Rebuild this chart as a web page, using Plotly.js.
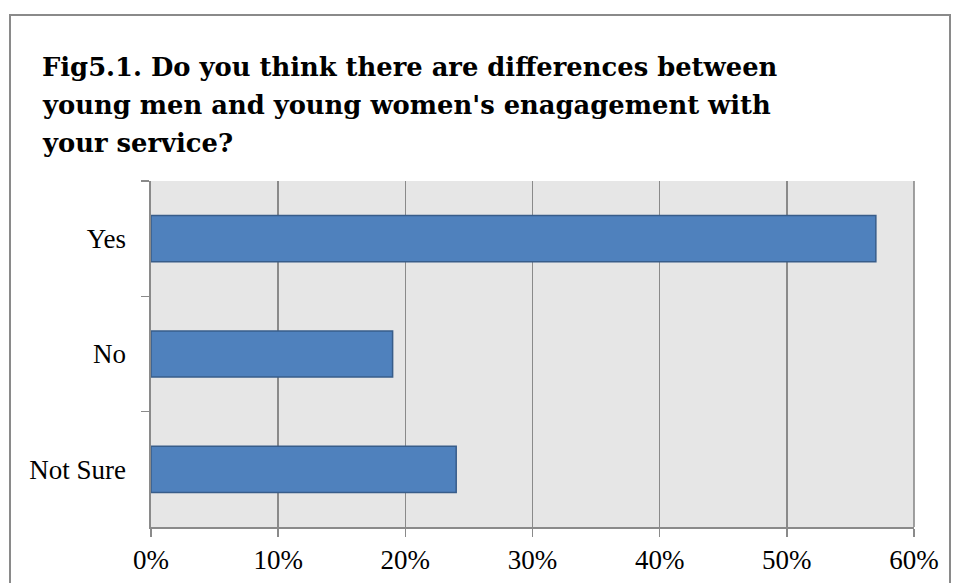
<!DOCTYPE html>
<html>
<head>
<meta charset="utf-8">
<script src="https://cdn.plot.ly/plotly-3.0.1.min.js"></script>
<style>
html,body{margin:0;padding:0;background:#fff;}
#chart{width:956px;height:583px;}
</style>
</head>
<body>
<div id="chart"></div>
<script>
const categories = ['Yes', 'No', 'Not Sure'];
const shares = [0.57, 0.19, 0.24];
const xTickVals = [0, 0.1, 0.2, 0.3, 0.4, 0.5, 0.6];
const xTickText = ['0%', '10%', '20%', '30%', '40%', '50%', '60%'];
const titleLines = [
  "Fig5.1. Do you think there are differences between",
  "young men and young women's enagagement with",
  "your service?"
];

const W = 956, H = 583;
const m = {l: 151, r: 42, t: 181, b: 56};
const pw = W - m.l - m.r, ph = H - m.t - m.b;
const px = v => (v - m.l) / pw;
const py = v => (H - m.b - v) / ph;

const trace = {
  type: 'bar',
  orientation: 'h',
  y: categories,
  x: shares,
  marker: {color: '#4f81bd', line: {color: '#385d8a', width: 1.5}},
  width: 0.4,
  hoverinfo: 'x+y'
};

const titleMid = [67, 105, 143];
const annotations = titleLines.map((t, i) => ({
  text: '<b>' + t + '</b>',
  xref: 'paper', yref: 'paper',
  x: px(40), y: py(titleMid[i]),
  xanchor: 'left', yanchor: 'middle',
  showarrow: false,
  font: {family: '"DejaVu Serif", serif', size: 25.8, color: '#000'}
}));

const layout = {
  width: W, height: H,
  margin: m,
  paper_bgcolor: '#ffffff',
  plot_bgcolor: '#e6e6e6',
  showlegend: false,
  font: {family: '"Liberation Serif", serif', color: '#000'},
  annotations: annotations,
  xaxis: {
    range: [0, 0.6],
    tickvals: xTickVals,
    ticktext: xTickText,
    showgrid: true, gridcolor: '#8a8a8a', gridwidth: 1.6,
    zeroline: false,
    showline: true, linecolor: '#8a8a8a', linewidth: 1.6,
    ticks: 'outside', ticklen: 8, tickcolor: '#8a8a8a', tickwidth: 1.6,
    tickfont: {size: 27, color: '#000'},
    ticklabelstandoff: 0,
    fixedrange: true
  },
  yaxis: {
    type: 'category',
    autorange: 'reversed',
    showgrid: false,
    showline: true, linecolor: '#8a8a8a', linewidth: 1.6,
    ticks: 'outside', ticklen: 8, tickcolor: '#8a8a8a', tickwidth: 1.6,
    tickson: 'boundaries',
    tickfont: {size: 27, color: '#000'},
    ticklabelstandoff: 18,
    fixedrange: true
  },
  shapes: [
    {type: 'line', xref: 'paper', yref: 'paper', x0: 1, x1: 1, y0: 0, y1: 1,
     line: {color: '#8a8a8a', width: 1.6}},
    {type: 'rect', xref: 'paper', yref: 'paper',
     x0: px(10), x1: px(950), y0: py(620), y1: py(15),
     line: {color: '#8a8a8a', width: 2}, fillcolor: 'rgba(0,0,0,0)', layer: 'below'}
  ]
};

Plotly.newPlot('chart', [trace], layout, {displayModeBar: false, staticPlot: true});
</script>
</body>
</html>
